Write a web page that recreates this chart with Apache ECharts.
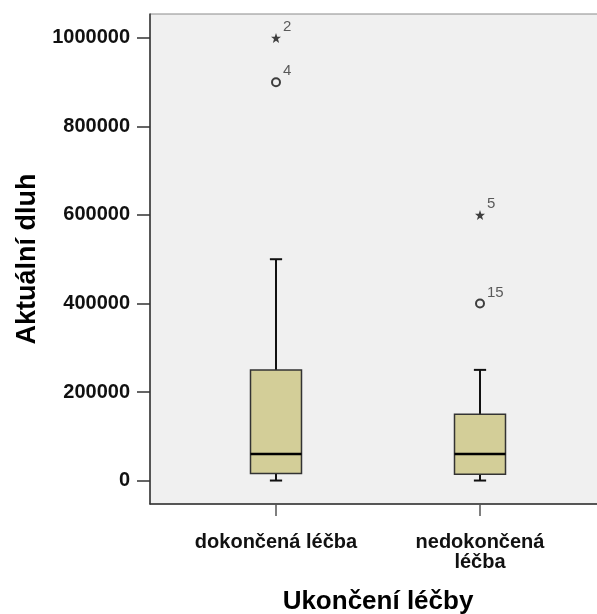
<!DOCTYPE html>
<html>
<head>
<meta charset="utf-8">
<script src="https://cdn.jsdelivr.net/npm/echarts@6/dist/echarts.min.js"></script>
<style>
  html, body { margin: 0; padding: 0; background: #ffffff; }
  #chart { width: 597px; height: 614px; }
</style>
</head>
<body>
<div id="chart"></div>
<script>
// Box plot of current debt by treatment completion
const categories = ['dokončená léčba', 'nedokončená léčba'];
const whiskerLow = [0, 0];
const quartile1 = [16000, 14000];
const medians = [60000, 60000];
const quartile3 = [250000, 150000];
const whiskerHigh = [500000, 250000];

// Outliers (open circles) and extreme values (stars) with their case numbers
const outlierCategory = [0, 1];
const outlierValue = [900000, 400000];
const outlierCase = ['4', '15'];
const extremeCategory = [0, 1];
const extremeValue = [1000000, 600000];
const extremeCase = ['2', '5'];

const yTicks = [0, 200000, 400000, 600000, 800000, 1000000];
const yMin = -53000;
const yMax = 1054000;

const FONT = '"Liberation Sans", Arial, sans-serif';
const STAR = 'path://M0,-10 L2.35,-3.24 L9.51,-3.09 L3.8,1.24 L5.88,8.09 L0,4 L-5.88,8.09 L-3.8,1.24 L-9.51,-3.09 L-2.35,-3.24 Z';

const boxData = categories.map((c, i) => [i, whiskerLow[i], quartile1[i], medians[i], quartile3[i], whiskerHigh[i]]);
const outlierData = outlierCategory.map((c, i) => [c, outlierValue[i], outlierCase[i]]);
const extremeData = extremeCategory.map((c, i) => [c, extremeValue[i], extremeCase[i]]);

function renderBox(params, api) {
  const i = api.value(0);
  const lo = api.coord([i, api.value(1)]);
  const q1 = api.coord([i, api.value(2)]);
  const md = api.coord([i, api.value(3)]);
  const q3 = api.coord([i, api.value(4)]);
  const hi = api.coord([i, api.value(5)]);
  const band = api.size([1, 0])[0];
  const bw = band * 0.25;
  const cw = band * 0.06;
  const x = lo[0];
  const lineStyle = { stroke: '#111111', lineWidth: 2 };
  return {
    type: 'group',
    children: [
      { type: 'line', shape: { x1: x, y1: q3[1], x2: x, y2: hi[1] }, style: lineStyle },
      { type: 'line', shape: { x1: x, y1: q1[1], x2: x, y2: lo[1] }, style: lineStyle },
      { type: 'line', shape: { x1: x - cw / 2, y1: hi[1], x2: x + cw / 2, y2: hi[1] }, style: lineStyle },
      { type: 'line', shape: { x1: x - cw / 2, y1: lo[1], x2: x + cw / 2, y2: lo[1] }, style: lineStyle },
      { type: 'rect', shape: { x: x - bw / 2, y: q3[1], width: bw, height: q1[1] - q3[1] },
        style: { fill: '#D3CE98', stroke: '#333333', lineWidth: 1.5 } },
      { type: 'line', shape: { x1: x - bw / 2, y1: md[1], x2: x + bw / 2, y2: md[1] },
        style: { stroke: '#000000', lineWidth: 2.5 } }
    ]
  };
}

const caseLabel = {
  show: true,
  position: 'inside',
  align: 'left',
  verticalAlign: 'middle',
  offset: [7, -11],
  formatter: p => p.data[2],
  fontFamily: FONT,
  fontSize: 15,
  color: '#333333'
};

const chart = echarts.init(document.getElementById('chart'), null, { renderer: 'canvas' });
chart.setOption({
  animation: false,
  backgroundColor: '#ffffff',
  grid: [
    { left: 174, right: 15, top: 14, bottom: 110, show: false, outerBoundsMode: 'none', containLabel: false },
    { left: 150, right: -20, top: 14, bottom: 110, show: true, backgroundColor: '#F0F0F0',
      borderColor: '#8a8a8a', borderWidth: 1, outerBoundsMode: 'none', containLabel: false }
  ],
  xAxis: [
    {
      type: 'category', gridIndex: 0, data: categories, boundaryGap: true,
      name: 'Ukončení léčby', nameLocation: 'middle', nameGap: 85,
      nameTextStyle: { fontFamily: FONT, fontSize: 26, fontWeight: 'bold', color: '#000000' },
      axisLine: { show: false, onZero: false },
      axisTick: { show: true, alignWithLabel: true, length: 12, lineStyle: { color: '#555555', width: 1.5 } },
      axisLabel: { margin: 28, fontFamily: FONT, fontSize: 20, fontWeight: 'bold', color: '#111111',
        lineHeight: 20, interval: 0,
        formatter: v => (v.length > 15 ? v.replace(' ', '\n') : v) },
      splitLine: { show: false }
    },
    {
      type: 'value', gridIndex: 1, min: 0, max: 1,
      axisLine: { show: true, onZero: false, lineStyle: { color: '#333333', width: 1.5 } },
      axisTick: { show: false }, axisLabel: { show: false }, splitLine: { show: false }
    }
  ],
  yAxis: [
    {
      type: 'value', gridIndex: 0, min: yMin, max: yMax,
      axisLine: { show: false }, axisTick: { show: false }, axisLabel: { show: false }, splitLine: { show: false }
    },
    {
      type: 'value', gridIndex: 1, min: yMin, max: yMax,
      name: 'Aktuální dluh', nameLocation: 'middle', nameGap: 96,
      nameTextStyle: { fontFamily: FONT, fontSize: 27, fontWeight: 'bold', color: '#000000' },
      axisLine: { show: true, onZero: false, lineStyle: { color: '#333333', width: 1.5 } },
      axisTick: { show: true, length: 13, customValues: yTicks, lineStyle: { color: '#333333', width: 1.5 } },
      axisLabel: { margin: 20, customValues: yTicks, formatter: v => String(Math.round(v)),
        fontFamily: FONT, fontSize: 20, fontWeight: 'bold', color: '#111111' },
      splitLine: { show: false }
    }
  ],
  series: [
    {
      type: 'custom', xAxisIndex: 0, yAxisIndex: 0,
      renderItem: renderBox,
      encode: { x: 0, y: [1, 2, 3, 4, 5] },
      data: boxData,
      z: 3
    },
    {
      type: 'scatter', xAxisIndex: 0, yAxisIndex: 0,
      symbol: 'circle', symbolSize: 8,
      itemStyle: { color: 'rgba(0,0,0,0)', borderColor: '#111111', borderWidth: 2 },
      label: caseLabel,
      data: outlierData,
      z: 4
    },
    {
      type: 'scatter', xAxisIndex: 0, yAxisIndex: 0,
      symbol: STAR, symbolSize: 10,
      itemStyle: { color: '#111111' },
      label: caseLabel,
      data: extremeData,
      z: 4
    }
  ]
});
</script>
</body>
</html>
